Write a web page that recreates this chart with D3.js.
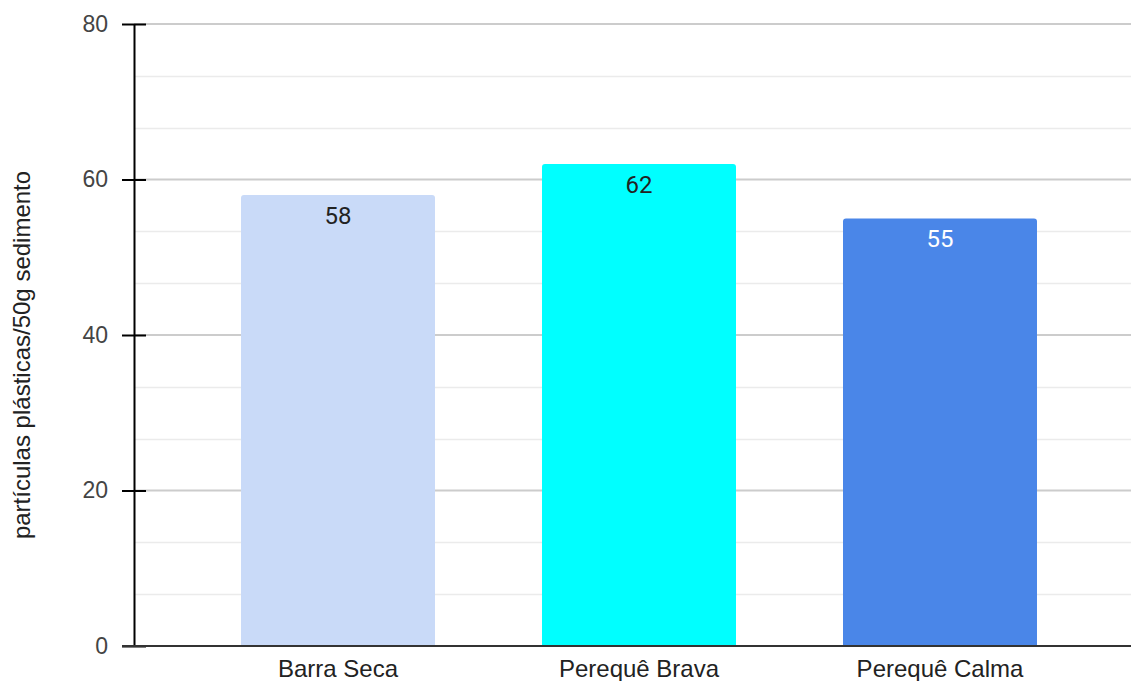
<!DOCTYPE html>
<html>
<head>
<meta charset="utf-8">
<script src="https://cdn.jsdelivr.net/npm/d3@7"></script>
<style>
  html, body { margin: 0; padding: 0; background: #fff; }
  svg { display: block; }
</style>
</head>
<body>
<div id="chart"></div>
<script>
// Microplastic particles per 50 g of sediment, by site
const categories = ["Barra Seca", "Perequê Brava", "Perequê Calma"];
const values = [58, 62, 55];
const barColors = ["#c9daf8", "#00ffff", "#4a86e8"];
const labelColors = ["#222222", "#222222", "#ffffff"];
const majorTicks = [0, 20, 40, 60, 80];
const minorTicks = [20/3, 40/3, 80/3, 100/3, 140/3, 160/3, 200/3, 220/3];
const yTitle = "partículas plásticas/50g sedimento";

const width = 1131, height = 681;
const margin = { top: 24, right: -13, bottom: 35, left: 134 };

const svg = d3.select("#chart").append("svg")
  .attr("width", width).attr("height", height);

const x = d3.scaleBand()
  .domain(categories)
  .range([margin.left, width - margin.right])
  .paddingInner(0.3555)
  .paddingOuter(0.3555);

const y = d3.scaleLinear()
  .domain([0, 80])
  .range([height - margin.bottom, margin.top]);

// Minor gridlines
svg.append("g").selectAll("line").data(minorTicks).join("line")
  .attr("x1", margin.left).attr("x2", width)
  .attr("y1", d => Math.round(y(d)) + 0.5).attr("y2", d => Math.round(y(d)) + 0.5)
  .attr("stroke", "#ebebeb").attr("stroke-width", 1.5);

// Major gridlines
svg.append("g").selectAll("line").data(majorTicks.filter(d => d > 0)).join("line")
  .attr("x1", margin.left).attr("x2", width)
  .attr("y1", d => y(d)).attr("y2", d => y(d))
  .attr("stroke", "#cccccc").attr("stroke-width", 2);

// Bars with slightly rounded top corners
const r = 3;
svg.append("g").selectAll("path").data(values).join("path")
  .attr("fill", (d, i) => barColors[i])
  .attr("d", (d, i) => {
    const x0 = x(categories[i]), w = x.bandwidth();
    const yt = y(d), yb = y(0);
    return `M${x0},${yb}V${yt + r}Q${x0},${yt} ${x0 + r},${yt}H${x0 + w - r}Q${x0 + w},${yt} ${x0 + w},${yt + r}V${yb}Z`;
  });

// Value labels inside the bars
svg.append("g").selectAll("text").data(values).join("text")
  .attr("x", (d, i) => x(categories[i]) + x.bandwidth() / 2)
  .attr("y", d => y(d) + 29)
  .attr("text-anchor", "middle")
  .attr("font-family", "Roboto, Arial, sans-serif")
  .attr("font-size", 24)
  .attr("fill", (d, i) => labelColors[i])
  .text(d => d);

// Y axis
const yAxis = d3.axisLeft(y).tickValues(majorTicks).tickSize(12).tickSizeOuter(0).tickPadding(14);
const gy = svg.append("g").attr("transform", `translate(${margin.left},0)`).call(yAxis);
gy.select(".domain").attr("stroke", "#000").attr("stroke-width", 2);
gy.selectAll(".tick line").attr("stroke", "#000").attr("stroke-width", 2).attr("x2", 12).attr("x1", -12);
gy.selectAll(".tick text")
  .attr("font-family", "Liberation Sans, Arial, sans-serif")
  .attr("font-size", 23).attr("fill", "#444");

// X axis baseline and category labels
const xAxis = d3.axisBottom(x).tickSize(0).tickPadding(14);
const gx = svg.append("g").attr("transform", `translate(0,${y(0)})`).call(xAxis);
gx.select(".domain").remove();
gx.selectAll(".tick text")
  .attr("font-family", "Liberation Sans, Arial, sans-serif")
  .attr("font-size", 24).attr("fill", "#222");
svg.append("line")
  .attr("x1", margin.left - 12).attr("x2", width)
  .attr("y1", y(0)).attr("y2", y(0))
  .attr("stroke", "#333").attr("stroke-width", 2);

// Y axis title
svg.append("text")
  .attr("transform", `translate(30,${(y(0) + y(80)) / 2 + 20}) rotate(-90)`)
  .attr("text-anchor", "middle")
  .attr("font-family", "Liberation Sans, Arial, sans-serif")
  .attr("font-size", 24).attr("fill", "#222")
  .text(yTitle);
</script>
</body>
</html>
